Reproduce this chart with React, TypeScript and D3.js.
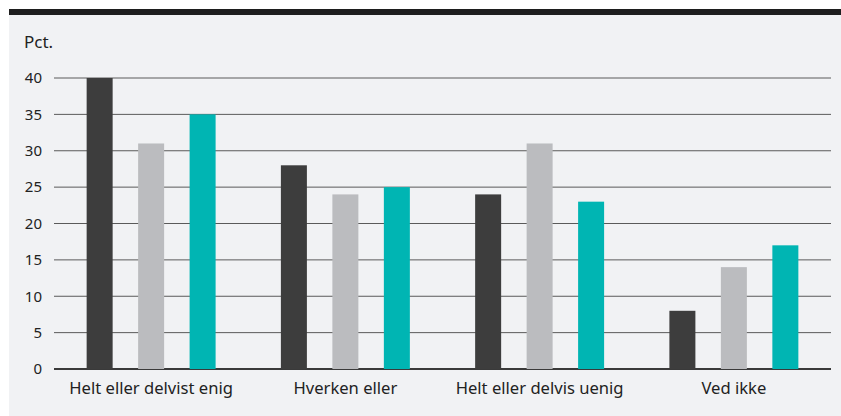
import React, { useEffect, useRef } from "react";
import * as d3 from "d3";

const categories = ["Helt eller delvist enig", "Hverken eller", "Helt eller delvis uenig", "Ved ikke"];
const seriesKeys = ["a", "b", "c"];
const seriesA = [40, 28, 24, 8];
const seriesB = [31, 24, 31, 14];
const seriesC = [35, 25, 23, 17];
const yTicks = [0, 5, 10, 15, 20, 25, 30, 35, 40];
const colors = ["#3d3d3d", "#bbbcbf", "#00b5b3"];

const W = 841;
const H = 416;
const margin = { top: 78, right: 10, bottom: 47, left: 54 };
const fontFamily = "'Noto Sans', 'Open Sans', sans-serif";

function renderChart(svgEl: SVGSVGElement) {
  const svg = d3.select(svgEl);
  svg.selectAll("*").remove();

  const width = W - margin.left - margin.right;
  const height = H - margin.top - margin.bottom;

  // panel + top rule
  svg.append("rect").attr("x", 9).attr("y", 15).attr("width", W - 9).attr("height", H - 15).attr("fill", "#f1f2f4");
  svg.append("rect").attr("x", 9).attr("y", 9).attr("width", W - 9).attr("height", 6).attr("fill", "#1e1e1e");

  const g = svg.append("g").attr("transform", `translate(${margin.left},${margin.top})`);

  const x0 = d3.scaleBand().domain(categories).range([0, width]).padding(0);
  const x1 = d3.scaleBand().domain(seriesKeys).range([0, x0.bandwidth()])
    .paddingInner(0.495).paddingOuter(0.634);
  const y = d3.scaleLinear().domain([0, 40]).range([height, 0]);

  // grid
  g.append("g")
    .selectAll("line")
    .data(yTicks)
    .join("line")
    .attr("x1", 0)
    .attr("x2", width)
    .attr("y1", d => y(d))
    .attr("y2", d => y(d))
    .attr("stroke", d => (d === 0 ? "#3a3a3a" : "#5a5a5a"))
    .attr("stroke-width", d => (d === 0 ? 1.8 : 1));

  // y labels
  g.append("g")
    .selectAll("text")
    .data(yTicks)
    .join("text")
    .attr("x", -12)
    .attr("y", d => y(d))
    .attr("dy", "0.35em")
    .attr("text-anchor", "end")
    .style("font-family", fontFamily)
    .style("font-size", "15px")
    .attr("fill", "#222")
    .text(d => d);

  const rows = categories.map((c, i) => ({ cat: c, vals: [seriesA[i], seriesB[i], seriesC[i]] }));

  // bars
  const groups = g.selectAll(".grp")
    .data(rows)
    .join("g")
    .attr("class", "grp")
    .attr("transform", d => `translate(${x0(d.cat)},0)`);

  groups.selectAll("rect")
    .data(d => d.vals.map((v, k) => ({ key: seriesKeys[k], v, k })))
    .join("rect")
    .attr("x", d => x1(d.key)!)
    .attr("width", x1.bandwidth())
    .attr("y", d => y(d.v))
    .attr("height", d => y(0) - y(d.v))
    .attr("fill", d => colors[d.k]);

  // x labels
  g.append("g")
    .selectAll("text")
    .data(categories)
    .join("text")
    .attr("x", d => x0(d)! + x0.bandwidth() / 2)
    .attr("y", height + 25)
    .attr("text-anchor", "middle")
    .style("font-family", fontFamily)
    .style("font-size", "16.6px")
    .attr("fill", "#222")
    .text(d => d);

  // unit label
  svg.append("text")
    .attr("x", 24)
    .attr("y", 48)
    .style("font-family", fontFamily)
    .style("font-size", "17px")
    .attr("fill", "#222")
    .text("Pct.");
}

export default function App() {
  const svgRef = useRef<SVGSVGElement>(null);

  useEffect(() => {
    if (svgRef.current) renderChart(svgRef.current);
  }, []);

  return (
    <svg
      ref={svgRef}
      width={W}
      height={H}
      style={{ position: "absolute", left: 0, top: 0, background: "#fff" }}
    />
  );
}
